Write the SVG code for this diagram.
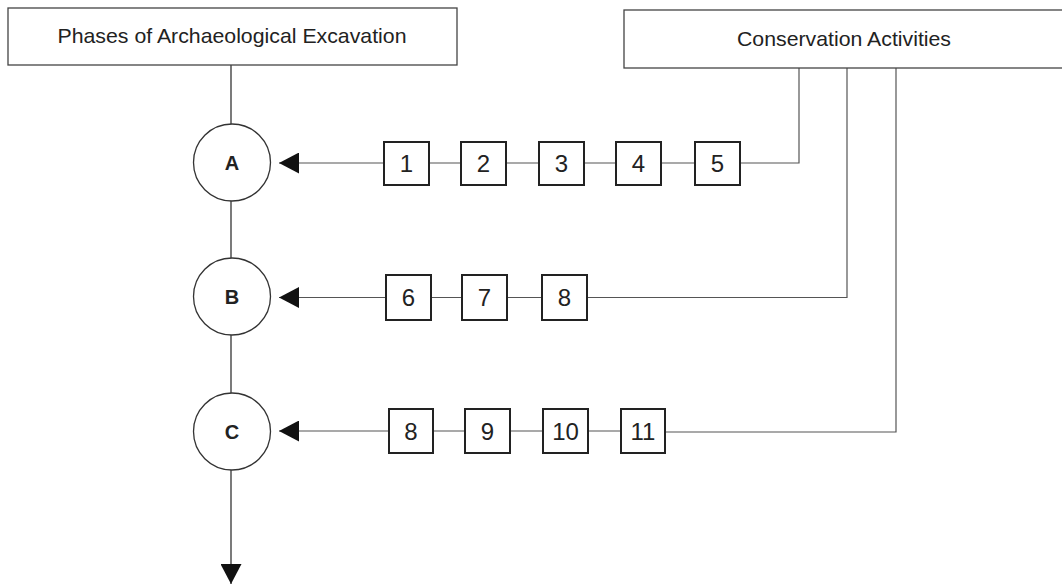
<svg xmlns="http://www.w3.org/2000/svg" width="1062" height="585" viewBox="0 0 1062 585">
<style>
.hdr{fill:#fff;stroke:#444;stroke-width:1.3}
.htxt{font-family:"Liberation Sans",Arial,sans-serif;font-size:21px;fill:#222;text-anchor:middle}
.box{fill:#fff;stroke:#222;stroke-width:2}
.num{font-family:"Liberation Sans",Arial,sans-serif;font-size:24px;fill:#222;text-anchor:middle}
.circ{fill:#fff;stroke:#333;stroke-width:1.3}
.let{font-family:"Liberation Sans",Arial,sans-serif;font-size:20px;font-weight:bold;fill:#222;text-anchor:middle}
.ln{fill:none;stroke:#555;stroke-width:1.2}
.dk{fill:none;stroke:#333;stroke-width:1.3}
</style>
<defs>
<marker id="ah" markerUnits="userSpaceOnUse" markerWidth="20" markerHeight="21" refX="20" refY="10.5" orient="auto">
<path d="M0,0 L20,10.5 L0,21 Z" fill="#111"/>
</marker>
</defs>
<g id="connectors">
<path class="dk" d="M231,65 V124"/>
<path class="dk" d="M231,201 V258"/>
<path class="dk" d="M231,335 V393"/>
<path class="dk" d="M231,470 V584" marker-end="url(#ah)"/>
<path class="ln" d="M384,163 H279" marker-end="url(#ah)"/>
<path class="ln" d="M386,297.5 H279" marker-end="url(#ah)"/>
<path class="ln" d="M389,431 H279" marker-end="url(#ah)"/>
<path class="ln" d="M429,163 H461 M506,163 H539 M584,163 H616 M661,163 H695"/>
<path class="ln" d="M740,163 H799 V68"/>
<path class="ln" d="M431,297.5 H462 M507,297.5 H542"/>
<path class="ln" d="M587,297.5 H847 V68"/>
<path class="ln" d="M433,431 H465 M510,431 H543 M588,431 H621"/>
<path class="ln" d="M665,432 H896 V68"/>
</g>
<g id="phases">
<rect class="hdr" x="8" y="8" width="449" height="57"/>
<text class="htxt" x="232" y="43" textLength="349" lengthAdjust="spacingAndGlyphs">Phases of Archaeological Excavation</text>
</g>
<g id="conservation">
<rect class="hdr" x="624" y="10" width="445" height="58"/>
<text class="htxt" x="844" y="46" textLength="214" lengthAdjust="spacingAndGlyphs">Conservation Activities</text>
</g>
<g id="A"><circle class="circ" cx="232" cy="162.5" r="38.5"/><text class="let" x="232" y="170">A</text></g>
<g id="B"><circle class="circ" cx="232" cy="296.5" r="38.5"/><text class="let" x="232" y="304">B</text></g>
<g id="C"><circle class="circ" cx="232" cy="431.5" r="38.5"/><text class="let" x="232" y="439">C</text></g>
<g id="a1"><rect class="box" x="384" y="142" width="45" height="43"/><text class="num" x="406.5" y="172">1</text></g>
<g id="a2"><rect class="box" x="461" y="142" width="45" height="43"/><text class="num" x="483.5" y="172">2</text></g>
<g id="a3"><rect class="box" x="539" y="142" width="45" height="43"/><text class="num" x="561.5" y="172">3</text></g>
<g id="a4"><rect class="box" x="616" y="142" width="45" height="43"/><text class="num" x="638.5" y="172">4</text></g>
<g id="a5"><rect class="box" x="695" y="142" width="45" height="43"/><text class="num" x="717.5" y="172">5</text></g>
<g id="b6"><rect class="box" x="386" y="275" width="45" height="45"/><text class="num" x="408.5" y="306">6</text></g>
<g id="b7"><rect class="box" x="462" y="275" width="45" height="45"/><text class="num" x="484.5" y="306">7</text></g>
<g id="b8"><rect class="box" x="542" y="275" width="45" height="45"/><text class="num" x="564.5" y="306">8</text></g>
<g id="c8"><rect class="box" x="389" y="409" width="44" height="44"/><text class="num" x="411" y="440">8</text></g>
<g id="c9"><rect class="box" x="465" y="409" width="45" height="44"/><text class="num" x="487.5" y="440">9</text></g>
<g id="c10"><rect class="box" x="543" y="409" width="45" height="44"/><text class="num" x="565.5" y="440">10</text></g>
<g id="c11"><rect class="box" x="621" y="409" width="44" height="44"/><text class="num" x="643" y="440">11</text></g>
</svg>
